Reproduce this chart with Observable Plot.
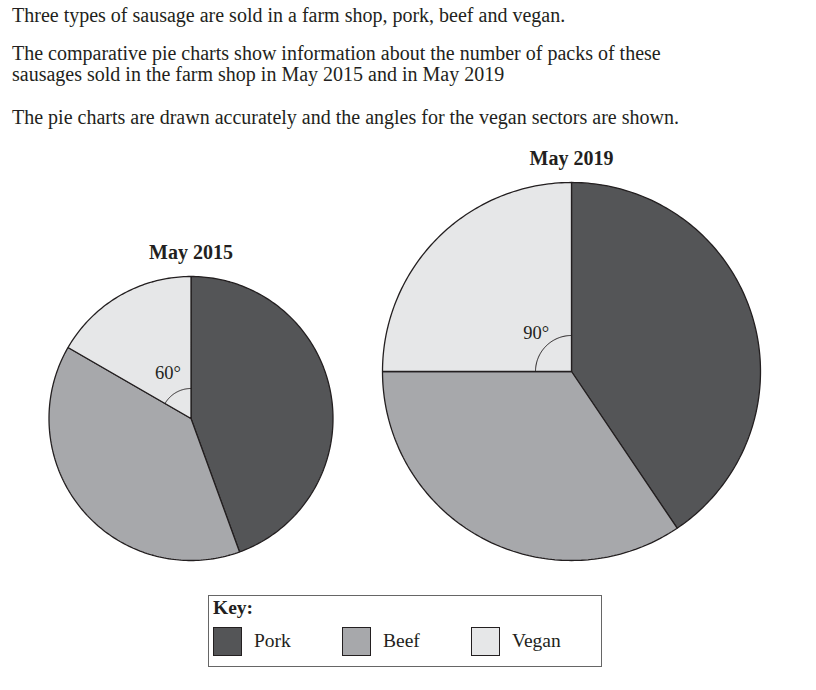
<!DOCTYPE html>
<html>
<head>
<meta charset="utf-8">
<script src="https://cdn.jsdelivr.net/npm/d3@7"></script>
<script src="https://cdn.jsdelivr.net/npm/@observablehq/plot@0.6"></script>
<style>
  html, body { margin: 0; padding: 0; background: #fff; }
  body { width: 816px; height: 690px; position: relative; overflow: hidden; font-family: "Liberation Serif", "Times New Roman", serif; color: #231f20; }
  .p { position: absolute; left: 12px; font-size: 20px; line-height: 21px; white-space: nowrap; }
  #chart { position: absolute; left: 0; top: 140px; }
  #key { position: absolute; left: 208px; top: 595px; width: 392px; height: 70px; border: 1.5px solid #666; }
  #key .title { position: absolute; left: 4px; top: 1px; font-weight: bold; font-size: 19.5px; }
  #key .sw { position: absolute; top: 31px; width: 27px; height: 27px; border: 1.5px solid #231f20; }
  #key .lab { position: absolute; top: 34px; font-size: 19.5px; }
</style>
</head>
<body>
<div class="p" style="top:5px">Three types of sausage are sold in a farm shop, pork, beef and vegan.</div>
<div class="p" style="top:43px">The comparative pie charts show information about the number of packs of these<br>sausages sold in the farm shop in May 2015 and in May 2019</div>
<div class="p" style="top:107px">The pie charts are drawn accurately and the angles for the vegan sectors are shown.</div>
<div id="chart"></div>
<div id="key"></div>
<script>
// ---- data ----
const years = ["May 2015", "May 2019"];
const types = ["Pork", "Beef", "Vegan"];
const angles2015 = [160, 140, 60];   // degrees: pork, beef, vegan
const angles2019 = [146, 124, 90];
const colors = ["#545557", "#a7a8ab", "#e6e7e8"];

// ---- layout (page pixel frame) ----
const layout = [
  {cx: 190.5, cy: 418, r: 142, arcR: 30},
  {cx: 571, cy: 371, r: 189, arcR: 36}
];
const allAngles = [angles2015, angles2019];

const sectorPts = [];
const markerPts = [];
const labels = [];
const titles = [];
years.forEach((yr, i) => {
  const {cx, cy, r, arcR} = layout[i];
  const ang = allAngles[i];
  let start = 0;
  ang.forEach((a, j) => {
    const id = yr + "-" + types[j];
    sectorPts.push({id, type: types[j], x: cx, y: cy});
    const n = Math.max(2, Math.ceil(a));
    for (let k = 0; k <= n; k++) {
      const t = (start + a * k / n) * Math.PI / 180;
      sectorPts.push({id, type: types[j], x: cx + r * Math.sin(t), y: cy - r * Math.cos(t)});
    }
    if (types[j] === "Vegan") {
      for (let k = 0; k <= 60; k++) {
        const t = (start + a * k / 60) * Math.PI / 180;
        markerPts.push({id, x: cx + arcR * Math.sin(t), y: cy - arcR * Math.cos(t)});
      }
      const mid = (start + a / 2) * Math.PI / 180;
      const lr = arcR + (a < 80 ? 22 : 18);
      labels.push({x: cx + lr * Math.sin(mid) + 3, y: cy - lr * Math.cos(mid), text: a + "°"});
    }
    start += a;
  });
  titles.push({x: cx, y: cy - r - 24, text: yr});
});

const W = 816, H = 450, Y0 = 140;
const plot = Plot.plot({
  width: W, height: H,
  margin: 0,
  x: {domain: [0, W], range: [0, W], axis: null},
  y: {domain: [Y0, Y0 + H], range: [0, H], axis: null},
  color: {domain: types, range: colors},
  style: {fontFamily: "Liberation Serif, Times New Roman, serif", background: "transparent", color: "#231f20"},
  marks: [
    Plot.line(sectorPts, {x: "x", y: "y", z: "id", fill: "type", stroke: "#231f20", strokeWidth: 1.3, curve: "linear-closed", strokeLinejoin: "miter"}),
    Plot.line(markerPts, {x: "x", y: "y", z: "id", stroke: "#231f20", strokeWidth: 1}),
    Plot.text(labels, {x: "x", y: "y", text: "text", fontSize: 18.5, fill: "#231f20"}),
    Plot.text(titles, {x: "x", y: "y", text: "text", fontSize: 20, fontWeight: "bold", fill: "#231f20"})
  ]
});
document.getElementById("chart").appendChild(plot);

// ---- key ----
const key = document.getElementById("key");
const t = document.createElement("div");
t.className = "title"; t.textContent = "Key:"; key.appendChild(t);
const swX = [4, 133, 262];
types.forEach((ty, j) => {
  const s = document.createElement("div");
  s.className = "sw"; s.style.left = swX[j] + "px"; s.style.background = colors[j];
  key.appendChild(s);
  const l = document.createElement("div");
  l.className = "lab"; l.style.left = (swX[j] + 41) + "px"; l.textContent = ty;
  key.appendChild(l);
});
</script>
</body>
</html>
